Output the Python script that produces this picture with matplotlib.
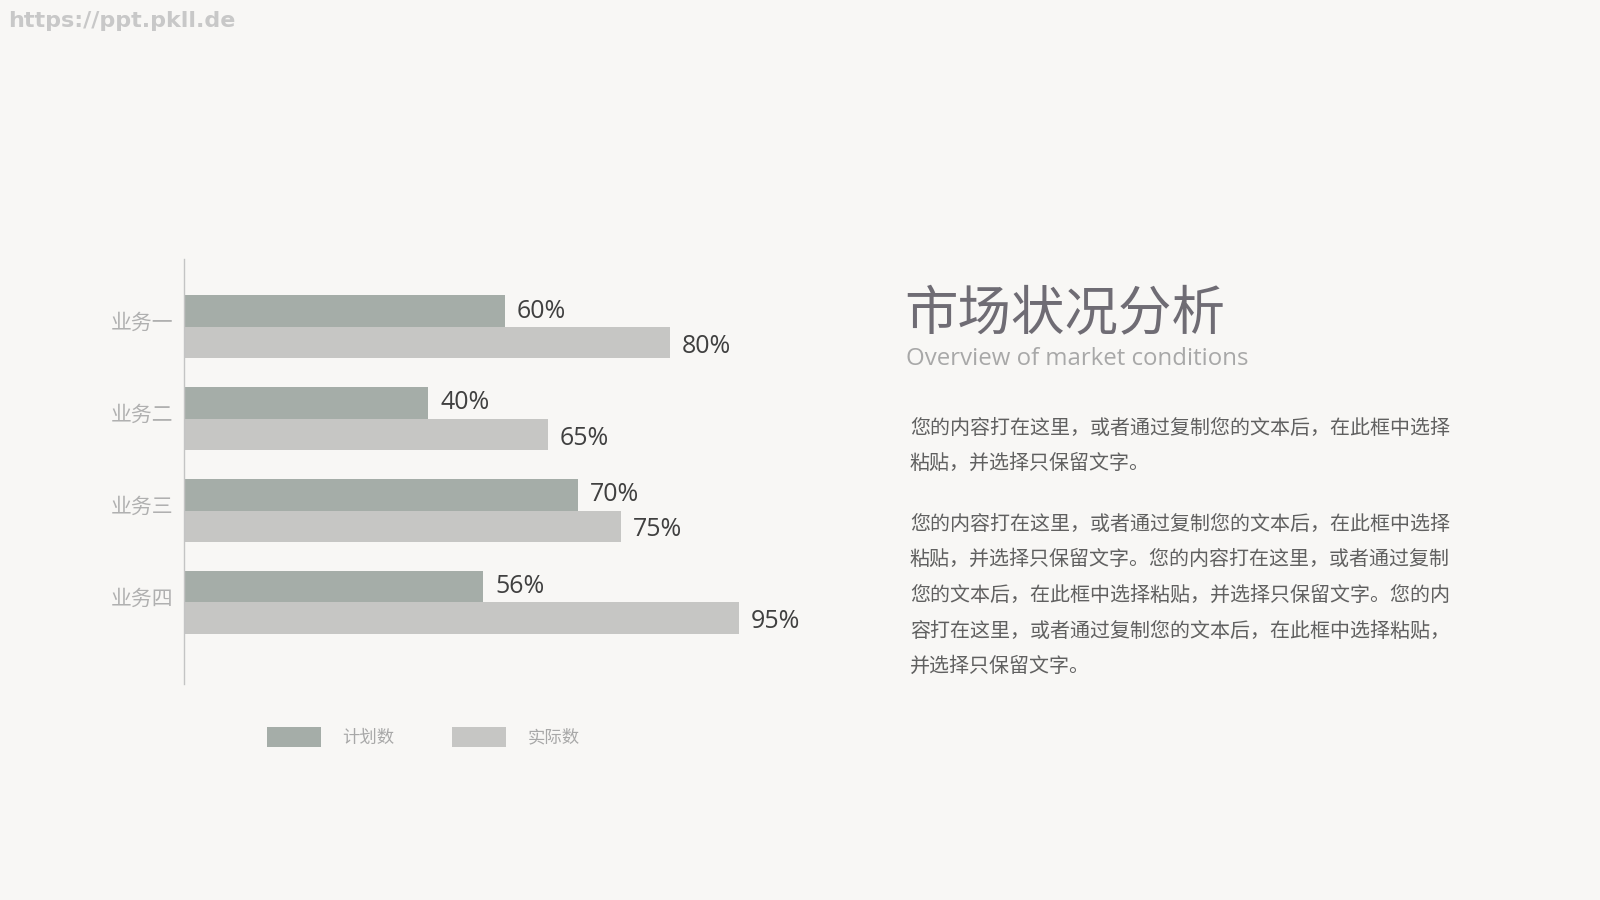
import matplotlib
matplotlib.use('Agg')
import matplotlib.pyplot as plt
import numpy as np

plt.rcParams['font.family'] = ['Noto Sans CJK SC', 'DejaVu Sans']

# data
categories = ['业务一', '业务二', '业务三', '业务四']
plan_len = [55.1, 41.9, 67.7, 51.4]      # bar lengths as drawn
actual_len = [83.5, 62.5, 75.1, 95.3]
plan_labels = ['60%', '40%', '70%', '56%']
actual_labels = ['80%', '65%', '75%', '95%']
series_names = ['计划数', '实际数']

title = '市场状况分析'
subtitle = 'Overview of market conditions'
para1 = ['您的内容打在这里，或者通过复制您的文本后，在此框中选择',
         '粘贴，并选择只保留文字。']
para2 = ['您的内容打在这里，或者通过复制您的文本后，在此框中选择',
         '粘贴，并选择只保留文字。您的内容打在这里，或者通过复制',
         '您的文本后，在此框中选择粘贴，并选择只保留文字。您的内',
         '容打在这里，或者通过复制您的文本后，在此框中选择粘贴，',
         '并选择只保留文字。']
watermark = 'https://ppt.pkll.de'

BG = '#f8f7f5'
PLAN_C = '#a5ada8'
ACT_C = '#c6c6c4'

W, H = 1600, 900
fig = plt.figure(figsize=(16, 9), dpi=100, facecolor=BG)

def fx(px):
    return px / W

def fy(py):
    return 1 - py / H

ax = fig.add_axes([fx(184), fy(684), fx(766) - fx(184), fy(259) - fy(684)])
ax.set_facecolor(BG)

y = np.arange(len(categories))
bh = 0.343
ax.barh(y - bh / 2, plan_len, height=bh, color=PLAN_C, label=series_names[0])
ax.barh(y + bh / 2, actual_len, height=bh, color=ACT_C, label=series_names[1])

lab_font = ['Open Sans', 'DejaVu Sans']
for i in range(len(categories)):
    ax.text(plan_len[i] + 2.1, y[i] - bh / 2, plan_labels[i], va='center', ha='left',
            fontsize=18, color='#404040', family=lab_font, clip_on=False)
    ax.text(actual_len[i] + 2.1, y[i] + bh / 2 + 0.04, actual_labels[i], va='center', ha='left',
            fontsize=18, color='#404040', family=lab_font, clip_on=False)

ax.set_xlim(0, 100)
ax.set_ylim(3 + 0.89, -0.74)
ax.set_yticks(y - 0.07)
ax.set_yticklabels(categories, fontsize=15, color='#b0b0b0')
ax.tick_params(axis='y', length=0, pad=8)
ax.set_xticks([])
for s in ['top', 'right', 'bottom']:
    ax.spines[s].set_visible(False)
ax.spines['left'].set_color('#c4c4c4')
ax.spines['left'].set_linewidth(1)

leg = fig.legend(loc='center left', bbox_to_anchor=(fx(267), fy(737)), ncol=2,
                 frameon=False, fontsize=12.5, handlelength=3.1, handleheight=1.4,
                 handletextpad=1.25, columnspacing=3.3, borderaxespad=0, borderpad=0)
for t in leg.get_texts():
    t.set_color('#a8a8a8')

# right side text
fig.text(fx(904), fy(315), title, fontsize=38.5, color='#6f6c74', va='center', ha='left')
fig.text(fx(906), fy(359), subtitle, fontsize=17.3, color='#a8a8a8', va='center', ha='left',
         family=lab_font)

line_gap = 35.7
for k, line in enumerate(para1):
    fig.text(fx(910), fy(428 + k * line_gap), line, fontsize=14.4, color='#606060',
             va='center', ha='left')
for k, line in enumerate(para2):
    fig.text(fx(910), fy(524 + k * line_gap), line, fontsize=14.4, color='#606060',
             va='center', ha='left')

fig.text(fx(8), fy(21), watermark, fontsize=16, color='#c8c8c8', weight='bold',
         va='center', ha='left', family=['DejaVu Sans'])

fig.savefig('out.png', dpi=100, facecolor=BG)
